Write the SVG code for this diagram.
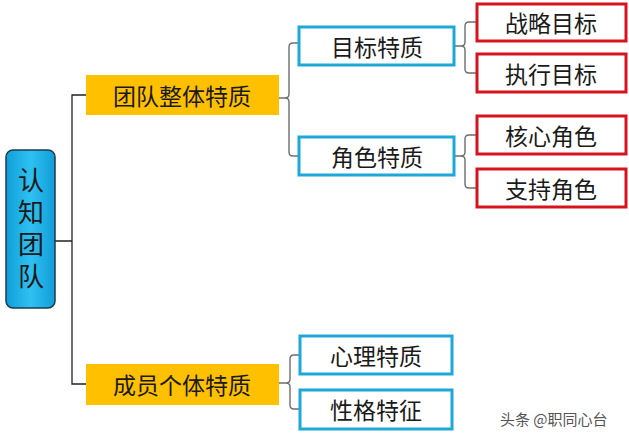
<svg xmlns="http://www.w3.org/2000/svg" width="629" height="439" viewBox="0 0 629 439">
<defs>
<linearGradient id="rootg" x1="0" y1="0" x2="1" y2="0">
<stop offset="0" stop-color="#0f9fd8"/>
<stop offset="0.5" stop-color="#2fc0f2"/>
<stop offset="1" stop-color="#119ed6"/>
</linearGradient>
</defs>
<style>
.t{font-family:"Noto Sans CJK SC","Noto Sans CJK JP",sans-serif;font-size:23px;fill:#1a1a1a;text-anchor:middle;dominant-baseline:central}
.root{font-size:26px;writing-mode:vertical-rl;text-anchor:start;letter-spacing:6px}
.org{fill:#ffc000}
.blue{fill:#fff;stroke:#1ea8d9;stroke-width:3}
.red{fill:#fff;stroke:#d7141d;stroke-width:3}
.c{fill:none;stroke:#6e6e6e;stroke-width:1.4}
.c0{fill:none;stroke:#222;stroke-width:1.3}
.wm{font-family:"Noto Sans CJK SC",sans-serif;font-size:15px;fill:#555}
</style>
<rect width="629" height="439" fill="#fff"/>
<g id="connectors">
<path class="c0" d="M55 241 H72 M86 95 H72 V384 H86"/>
<path class="c" d="M279 98 H285 Q289 98 289 94 V47 Q289 43 293 43 H298 M289 102 V152 Q289 156 293 156 H298 M285 98 Q289 98 289 102"/>
<path class="c" d="M455 46 H461 Q465 46 465 42 V26 Q465 22 469 22 H476 M461 46 Q465 46 465 50 V69 Q465 73 469 73 H476"/>
<path class="c" d="M455 156 H461 Q465 156 465 152 V139 Q465 135 469 135 H476 M461 156 Q465 156 465 160 V184 Q465 188 469 188 H476"/>
<path class="c" d="M279 383 H286 Q290 383 290 379 V359 Q290 355 294 355 H299 M286 383 Q290 383 290 387 V405 Q290 409 294 409 H299"/>
</g>
<g id="root">
<rect x="6" y="150" width="49" height="158" rx="7" fill="url(#rootg)" stroke="#1b3c50" stroke-width="1.5"/>
<text class="t root" x="31" y="167">认知团队</text>
</g>
<g id="n-team">
<rect class="org" x="86" y="75" width="193" height="40"/>
<text class="t" x="182" y="95">团队整体特质</text>
</g>
<g id="n-member">
<rect class="org" x="86" y="364" width="193" height="41"/>
<text class="t" x="182" y="384">成员个体特质</text>
</g>
<g id="n-goal">
<rect class="blue" x="299" y="27" width="155" height="38"/>
<text class="t" x="377" y="46">目标特质</text>
</g>
<g id="n-role">
<rect class="blue" x="299" y="137" width="155" height="38"/>
<text class="t" x="377" y="156">角色特质</text>
</g>
<g id="n-psy">
<rect class="blue" x="300" y="336" width="152" height="38"/>
<text class="t" x="376" y="355">心理特质</text>
</g>
<g id="n-char">
<rect class="blue" x="300" y="390" width="152" height="39"/>
<text class="t" x="376" y="409">性格特征</text>
</g>
<g id="n-strat">
<rect class="red" x="477" y="4" width="149" height="37"/>
<text class="t" x="551" y="22">战略目标</text>
</g>
<g id="n-exec">
<rect class="red" x="477" y="54" width="149" height="38"/>
<text class="t" x="551" y="73">执行目标</text>
</g>
<g id="n-core">
<rect class="red" x="477" y="116" width="149" height="38"/>
<text class="t" x="551" y="135">核心角色</text>
</g>
<g id="n-support">
<rect class="red" x="477" y="169" width="149" height="38"/>
<text class="t" x="551" y="188">支持角色</text>
</g>
<text class="wm" x="500" y="425">头条 @职同心台</text>
</svg>
